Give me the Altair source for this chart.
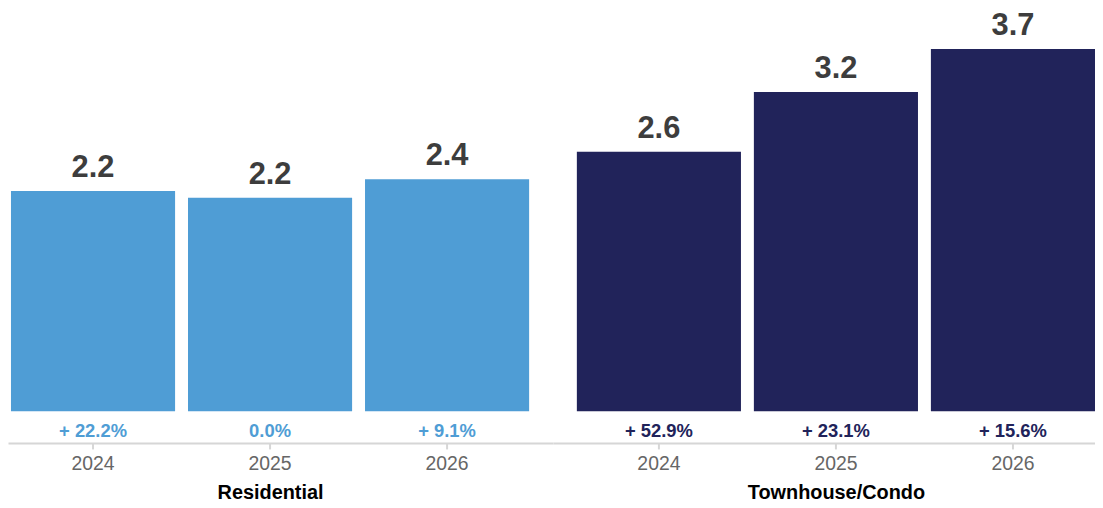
import altair as alt
import pandas as pd

years = ["2024", "2025", "2026"]

res_values = [2.25, 2.18, 2.37]
res_labels = ["2.2", "2.2", "2.4"]
res_change = ["+ 22.2%", "0.0%", "+ 9.1%"]

tc_values = [2.65, 3.26, 3.70]
tc_labels = ["2.6", "3.2", "3.7"]
tc_change = ["+ 52.9%", "+ 23.1%", "+ 15.6%"]

RES_COLOR = "#4f9dd5"
TC_COLOR = "#21235a"
FONT = "Liberation Sans"
H = 434
Y_DOMAIN = [-0.325, 4.085]


def panel(values, labels, changes, color, title, width, p_outer, align, title_x):
    df = pd.DataFrame({"year": years, "value": values, "label": labels, "change": changes})
    x = alt.X(
        "year:N",
        sort=years,
        scale=alt.Scale(paddingInner=0.073, paddingOuter=p_outer, align=align, round=False),
        axis=alt.Axis(
            title=title,
            titleFont=FONT,
            titleFontSize=20,
            titleFontWeight="bold",
            titleColor="#000000",
            titlePadding=9,
            titleX=title_x,
            labelFont=FONT,
            labelFontSize=19.5,
            labelColor="#666666",
            labelAngle=0,
            labelPadding=6,
            domainColor="#d6d6d6",
            domainWidth=2,
            tickColor="#d6d6d6",
            tickWidth=2,
            tickSize=6,
            grid=False,
        ),
    )
    y_scale = alt.Scale(domain=Y_DOMAIN, nice=False, zero=False)
    base = alt.Chart(df)
    bars = base.mark_bar(color=color).encode(
        x=x,
        y=alt.Y("value:Q", scale=y_scale, axis=None),
        y2=alt.datum(0),
    )
    vals = base.mark_text(
        font=FONT, fontSize=31, fontWeight="bold", color="#3d3d3d", dy=-14, baseline="alphabetic"
    ).encode(x=x, y=alt.Y("value:Q", scale=y_scale, axis=None), text="label:N")
    chg = base.mark_text(
        font=FONT, fontSize=18.5, fontWeight="bold", color=color, dy=25.5, baseline="alphabetic"
    ).encode(x=x, y=alt.datum(0, scale=y_scale), text="change:N")
    return alt.layer(bars, vals, chg).properties(width=width, height=H)


left = panel(res_values, res_labels, res_change, RES_COLOR, "Residential", 548, 0.07584, 0.111, 263.5)
right = panel(tc_values, tc_labels, tc_change, TC_COLOR, "Townhouse/Condo", 545, 0.0674, 1.0, 284.5)

chart = (
    alt.hconcat(left, right, spacing=0)
    .properties(padding={"left": 0, "top": 0, "right": 0, "bottom": 0})
    .configure_view(stroke=None)
)

chart.save("out.html", embed_options={"renderer": "svg", "actions": False})
